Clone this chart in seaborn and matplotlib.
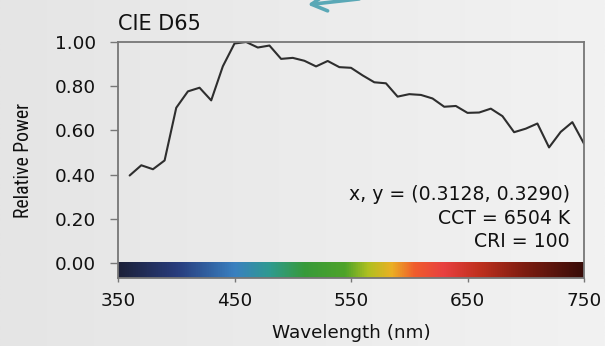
import numpy as np
import pandas as pd
import matplotlib
matplotlib.use("Agg")
import matplotlib.pyplot as plt
from matplotlib.colors import LinearSegmentedColormap
from matplotlib import font_manager
import seaborn as sns

# ---- data ----
wavelength = list(range(360, 751, 5))
relative_power = [
    0.3959, 0.4190, 0.4421, 0.4332, 0.4242, 0.4440, 0.4639, 0.5831, 0.7024, 0.7395,
    0.7765, 0.7848, 0.7931, 0.7644, 0.7358, 0.8129, 0.8901, 0.9416, 0.9932, 0.9966,
    1.0000, 0.9875, 0.9750, 0.9795, 0.9840, 0.9538, 0.9236, 0.9259, 0.9282, 0.9216,
    0.9150, 0.9023, 0.8895, 0.9018, 0.9141, 0.9001, 0.8862, 0.8847, 0.8832, 0.8660,
    0.8488, 0.8333, 0.8177, 0.8154, 0.8131, 0.7829, 0.7528, 0.7584, 0.7640, 0.7622,
    0.7605, 0.7525, 0.7444, 0.7257, 0.7070, 0.7087, 0.7105, 0.6949, 0.6793, 0.6801,
    0.6809, 0.6896, 0.6984, 0.6814, 0.6645, 0.6281, 0.5918, 0.5998, 0.6078, 0.6195,
    0.6311, 0.5770, 0.5229, 0.5580, 0.5932, 0.6153, 0.6373, 0.5886, 0.5398,
]
x_ticks = [350, 450, 550, 650, 750]
y_ticks = [0.0, 0.2, 0.4, 0.6, 0.8, 1.0]
y_tick_labels = ["0.00", "0.20", "0.40", "0.60", "0.80", "1.00"]
title = "CIE D65"
annotation_lines = ["x, y = (0.3128, 0.3290)", "CCT = 6504 K", "CRI = 100"]
spectrum_stops = [350, 400, 450, 480, 510, 545, 565, 585, 605, 630, 660, 700, 750]
spectrum_colors = ["#1c2038", "#283c7c", "#3a80c0", "#2f9a90", "#379a3a", "#4ea32a",
                   "#b0c020", "#eab024", "#f05c2c", "#e84040", "#c0301e", "#7c1c10",
                   "#380c08"]

df = pd.DataFrame({"Wavelength": wavelength, "Power": relative_power})

sns.set_theme(style="white")
plt.rcParams["font.family"] = ["DejaVu Sans"]

# pick a condensed family for the y label if one is installed
available = {f.name for f in font_manager.fontManager.ttflist}
narrow_family = "DejaVu Sans"
narrow_size = 10.8
for cand, size in [("Liberation Sans Narrow", 15.2), ("DejaVu Sans Condensed", 12.6),
                   ("Roboto Condensed", 14.2)]:
    if cand in available:
        narrow_family, narrow_size = cand, size
        break

fig = plt.figure(figsize=(6.05, 3.46), dpi=100)

# light gradient background
bg = fig.add_axes([0, 0, 1, 1], zorder=-10)
grad = np.linspace(0, 1, 256).reshape(1, -1)
bg.imshow(grad, extent=[0, 1, 0, 1], aspect="auto",
          cmap=LinearSegmentedColormap.from_list("bg", ["#e5e5e5", "#f2f2f2"]))
bg.axis("off")
fig.patch.set_facecolor("#ebebeb")

ax = fig.add_axes([118 / 605, 1 - 278 / 346, (584 - 118) / 605, (278 - 42) / 346])
ax.set_facecolor("none")

sns.lineplot(data=df, x="Wavelength", y="Power", ax=ax, color="#2e2e2e", linewidth=1.5)

ybottom = -0.068
ax.set_xlim(350, 750)
ax.set_ylim(ybottom, 1.0)

# spectrum bar
cmap = LinearSegmentedColormap.from_list(
    "spec", [((w - 350) / 400, c) for w, c in zip(spectrum_stops, spectrum_colors)])
ax.imshow(np.linspace(0, 1, 512).reshape(1, -1), extent=[350, 750, ybottom, 0.0],
          aspect="auto", cmap=cmap, zorder=1)

ax.set_xticks(x_ticks)
ax.set_xticklabels([str(v) for v in x_ticks])
ax.set_yticks(y_ticks)
ax.set_yticklabels(y_tick_labels)
ax.tick_params(axis="y", direction="out", length=6, width=1, color="#777777",
               pad=10, labelsize=13.3, labelcolor="#111111", left=True)
ax.tick_params(axis="x", direction="out", length=3, width=1, color="#777777",
               pad=7, labelsize=13.3, labelcolor="#111111", bottom=True)

for s in ax.spines.values():
    s.set_visible(True)
    s.set_color("#777777")
    s.set_linewidth(1.3)

ax.set_xlabel("Wavelength (nm)", fontsize=13.2, color="#111111")
ax.xaxis.set_label_coords(0.5, -0.195)
ax.set_ylabel("Relative Power", fontsize=narrow_size, color="#111111",
              family=[narrow_family, "DejaVu Sans"])
ax.yaxis.set_label_coords(-0.183, 0.5)
ax.set_title(title, loc="left", fontsize=15, color="#111111", pad=9)

ys = [0.352, 0.254, 0.153]
for txt, yy in zip(annotation_lines, ys):
    ax.text(0.970, yy, txt, transform=ax.transAxes, ha="right", va="center",
            fontsize=13.6, color="#111111")

# decorative teal arrow at the top
fig.add_artist(matplotlib.patches.FancyArrowPatch(
    (362 / 605, 1.004), (305 / 605, 1 - 5 / 346), transform=fig.transFigure,
    arrowstyle="->,head_length=11,head_width=6", color="#5aa8b6", linewidth=2.6,
    mutation_scale=1))

fig.savefig("out.png", dpi=100, facecolor=fig.get_facecolor())
